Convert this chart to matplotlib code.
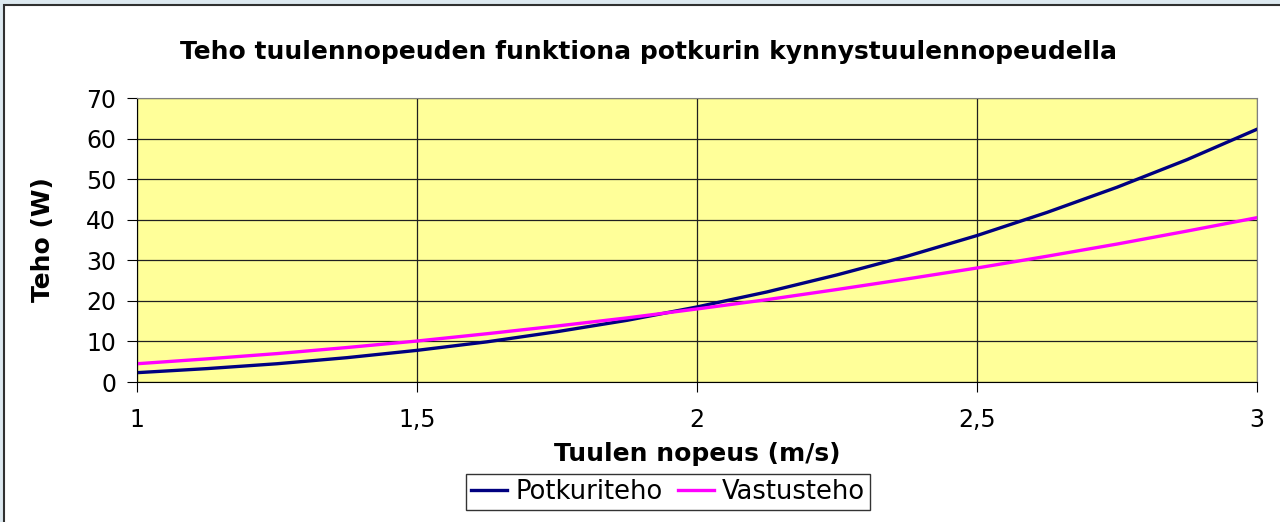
import matplotlib.pyplot as plt
from matplotlib.patches import Rectangle

# Tuulen nopeus (m/s) ja tehot (W) luettuna kuvasta
nopeus = [1, 1.125, 1.25, 1.375, 1.5, 1.625, 1.75, 1.875, 2,
          2.125, 2.25, 2.375, 2.5, 2.625, 2.75, 2.875, 3]
potkuriteho = [2.3, 3.3, 4.5, 6.0, 7.8, 9.9, 12.4, 15.2, 18.5,
               22.2, 26.4, 31.0, 36.1, 41.8, 48.0, 54.8, 62.3]
vastusteho = [4.5, 5.7, 7.0, 8.5, 10.1, 11.9, 13.8, 15.8, 18.0,
              20.3, 22.8, 25.4, 28.1, 31.0, 34.0, 37.2, 40.5]
x_ticks = [1, 1.5, 2, 2.5, 3]
x_labels = ['1', '1,5', '2', '2,5', '3']
y_ticks = [0, 10, 20, 30, 40, 50, 60, 70]

plt.rcParams['font.family'] = ['DejaVu Sans']

fig = plt.figure(figsize=(12.8, 5.22), dpi=100, facecolor='#dde9f0')
# valkoinen kaavioalue ja reunaviiva
fig.patches.append(Rectangle((4 / 1280, -0.1), 1.1, (517 + 0.1 * 522) / 522,
                             transform=fig.transFigure, facecolor='white',
                             edgecolor='#303030', linewidth=1.5, zorder=-10))

ax = fig.add_axes([137 / 1280, 1 - 382 / 522, 1120 / 1280, 284 / 522])
ax.set_facecolor('#ffff99')
ax.plot(nopeus, potkuriteho, color='#000080', linewidth=2.4, label='Potkuriteho')
ax.plot(nopeus, vastusteho, color='#ff00ff', linewidth=2.4, label='Vastusteho')

ax.set_xlim(1, 3)
ax.set_ylim(0, 70)
ax.set_xticks(x_ticks)
ax.set_xticklabels(x_labels)
ax.set_yticks(y_ticks)
ax.grid(True, color='#202020', linewidth=0.9)
ax.set_axisbelow(True)
for s in ax.spines.values():
    s.set_color('#808080')
ax.spines['bottom'].set_color('black')
ax.spines['left'].set_color('black')
ax.tick_params(axis='x', length=7, pad=12, labelsize=17, color='black')
ax.tick_params(axis='y', length=7, pad=8, labelsize=17, color='black')

ax.set_title('Teho tuulennopeuden funktiona potkurin kynnystuulennopeudella',
             fontsize=18, fontweight='bold', pad=28, x=0.457)
ax.set_xlabel('Tuulen nopeus (m/s)', fontsize=18, fontweight='bold', labelpad=7)
ax.set_ylabel('Teho (W)', fontsize=18, fontweight='bold', labelpad=22)

leg = ax.legend(loc='upper center', bbox_to_anchor=(668 / 1280, 1 - 474 / 522),
                bbox_transform=fig.transFigure, ncol=2, fontsize=18.5,
                frameon=True, fancybox=False, handlelength=1.4,
                handletextpad=0.3, columnspacing=0.6, borderpad=0.2,
                borderaxespad=0)
leg.get_frame().set_edgecolor('black')
leg.get_frame().set_linewidth(1)

fig.savefig('out.png', dpi=100, facecolor=fig.get_facecolor())
